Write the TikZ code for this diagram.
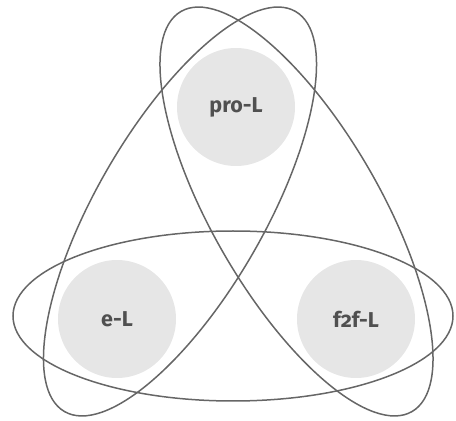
\documentclass[tikz,border=0pt]{standalone}
\usepackage{fontspec}
\setmainfont{Fira Sans}[Numbers=OldStyle]
\definecolor{linegray}{HTML}{666666}
\definecolor{fillgray}{HTML}{E6E6E6}
\definecolor{textgray}{HTML}{505050}
\begin{document}
\begin{tikzpicture}[x=1pt,y=1pt,
  loop/.style={draw=linegray,line width=1.5pt},
  blob/.style={circle,fill=fillgray,minimum size=118pt,inner sep=0pt,
    text=textgray,font=\fontsize{21.5}{24}\selectfont\bfseries}]
\useasboundingbox (0,0) rectangle (456,421);
\node[blob] (pro) at (236,314) {pro-L};
\node[blob] (e) at (117,102) {e-L};
\node[blob] (f) at (356,102) {f2f-L};
\draw[loop] (233,105) ellipse [x radius=220, y radius=85];
\draw[loop,rotate around={60:(180,209.5)}] (180,209.5) ellipse [x radius=231, y radius=84];
\draw[loop,rotate around={-60:(296.5,209.5)}] (296.5,209.5) ellipse [x radius=231, y radius=84];
\end{tikzpicture}
\end{document}
